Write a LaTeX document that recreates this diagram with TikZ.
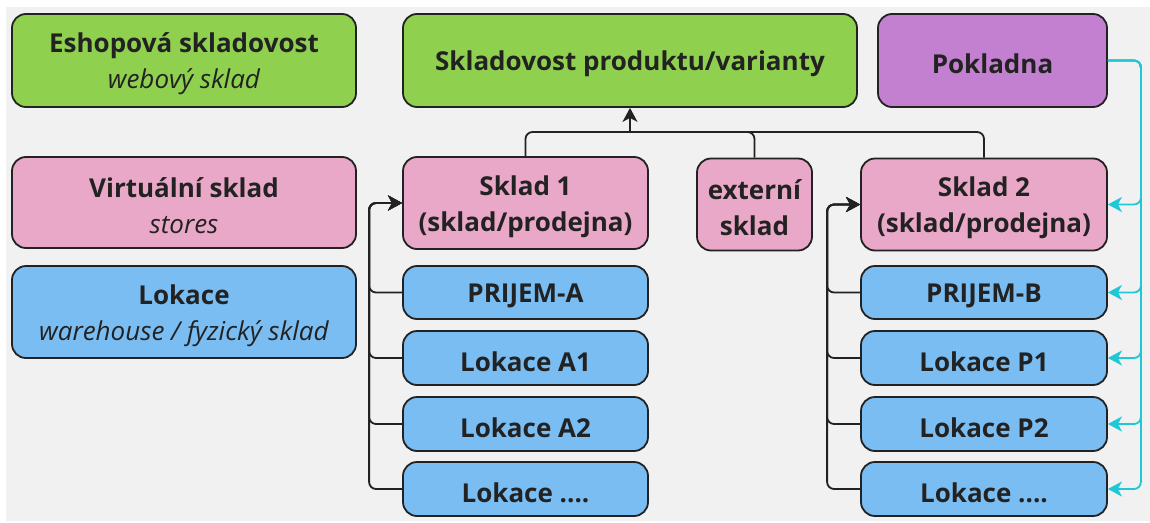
\documentclass[tikz,border=0pt]{standalone}
\usepackage{fontspec}
\setmainfont{Open Sans}
\usetikzlibrary{arrows.meta,calc}
\definecolor{bg}{RGB}{241,241,241}
\definecolor{ink}{RGB}{34,34,34}
\definecolor{grn}{RGB}{143,209,79}
\definecolor{pnk}{RGB}{234,168,200}
\definecolor{prp}{RGB}{196,128,208}
\definecolor{blu}{RGB}{122,189,242}
\definecolor{cyn}{RGB}{32,200,214}
\tikzset{
  box/.style={draw=ink,line width=1.8pt,rounded corners=14pt,inner sep=0pt},
  txt/.style={align=center,text=ink,inner sep=0pt,font=\bfseries\fontsize{26}{36}\selectfont},
  wide/.style={box,minimum width=344pt,minimum height=92pt},
  col/.style={box,minimum width=245pt},
  conn/.style={draw=ink,line width=1.8pt,rounded corners=7pt},
  dark arrow/.style={conn,-{Stealth[length=14pt,width=15pt,inset=4pt]}},
  cyan arrow/.style={draw=cyn,line width=1.8pt,rounded corners=7pt,-{Stealth[length=14pt,width=15pt,inset=4pt]}},
}
\newcommand{\sub}[1]{\\{\mdseries\itshape\fontsize{26}{36}\selectfont #1}}
% \bx{name}{position}{box style}{text}
\newcommand{\bx}[4]{%
  \node[#3] (#1) at (#2) {};
  \node[txt] (#1-t) at ($(#1)+(0,3.5)$) {#4};}
\begin{document}
\begin{tikzpicture}[x=1pt,y=-1pt]
\path[use as bounding box] (0,0) rectangle (1150,522);
\fill[white] (0,0) rectangle (1150,522);
\fill[bg] (6,7) rectangle (1150,521);
% left legend
\bx{esh}{184,60.5}{wide,fill=grn,minimum height=93pt}{Eshopová skladovost\sub{webový sklad}}
\bx{virt}{184,202.5}{wide,fill=pnk,minimum height=91pt}{Virtuální sklad\sub{stores}}
\bx{lok}{184,312}{wide,fill=blu}{Lokace\sub{warehouse / fyzický sklad}}
% top
\bx{var}{630,60.5}{box,fill=grn,minimum width=454pt,minimum height=93pt}{Skladovost produktu/varianty}
\bx{pok}{992.5,60.5}{box,fill=prp,minimum width=229pt,minimum height=93pt}{Pokladna}
% warehouses
\bx{s1}{525.5,203}{col,fill=pnk,minimum height=92pt}{Sklad 1\\(sklad/prodejna)}
\bx{ext}{754.5,204.5}{box,fill=pnk,minimum width=115pt,minimum height=92pt}{externí\\sklad}
\bx{s2}{984,204.5}{col,fill=pnk,minimum width=246pt,minimum height=92pt}{Sklad 2\\(sklad/prodejna)}
% locations A
\bx{pa}{525.5,292.5}{col,fill=blu,minimum height=53pt}{PRIJEM-A}
\bx{a1}{525.5,358}{col,fill=blu,minimum height=54pt}{Lokace A1}
\bx{a2}{525.5,424}{col,fill=blu,minimum height=54pt}{Lokace A2}
\bx{a3}{525.5,489}{col,fill=blu,minimum height=54pt}{Lokace ....}
% locations B
\bx{pb}{984,292.5}{col,fill=blu,minimum width=246pt,minimum height=53pt}{PRIJEM-B}
\bx{p1}{984,358}{col,fill=blu,minimum width=246pt,minimum height=54pt}{Lokace P1}
\bx{p2}{984,424}{col,fill=blu,minimum width=246pt,minimum height=54pt}{Lokace P2}
\bx{p3}{984,489}{col,fill=blu,minimum width=246pt,minimum height=54pt}{Lokace ....}
% join to top
\coordinate (join) at (630,132);
\draw[conn] (s1.north) |- (join);
\draw[conn] (ext.north) |- (join);
\draw[conn] (s2.north) |- (join);
\draw[dark arrow] (join) -- (var.south);
% brackets
\foreach \c in {pa,a1,a2,a3}{
  \draw[dark arrow] (\c.west) -| ($(s1.west)+(-33,0)$) -- (s1.west);
}
\foreach \c in {pb,p1,p2,p3}{
  \draw[dark arrow] (\c.west) -| ($(s2.west)+(-33,0)$) -- (s2.west);
}
% cyan from Pokladna
\foreach \c in {s2,pb,p1,p2,p3}{
  \draw[cyan arrow] (pok.east) -| ($(\c.east)+(33,0)$) -- (\c.east);
}
\end{tikzpicture}
\end{document}
